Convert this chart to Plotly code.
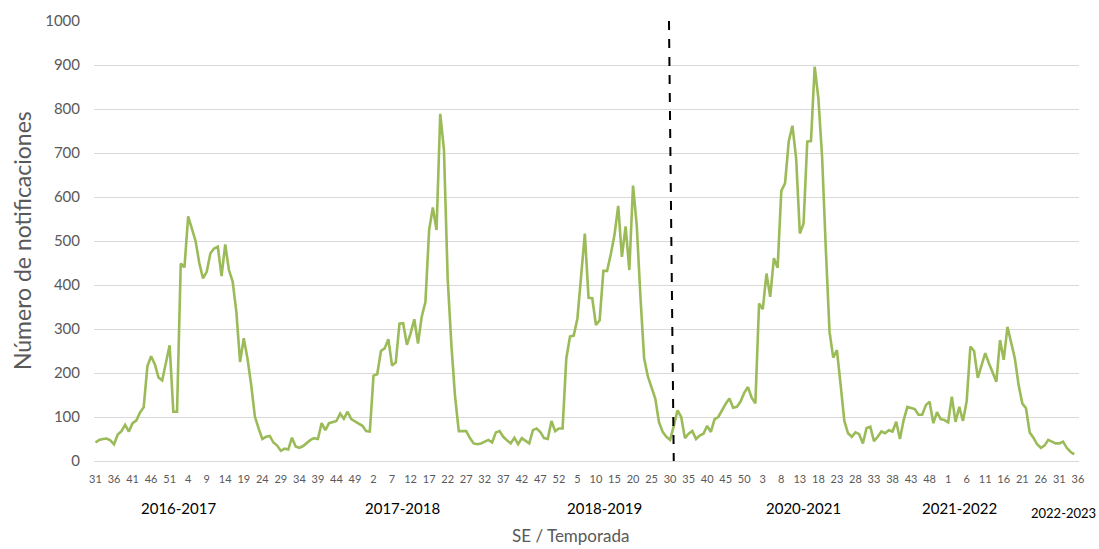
"""Notificaciones semanales por temporada (SE 31/2016 - SE 36/2022)."""

import plotly.graph_objects as go

# ---------------------------------------------------------------------------
# Data (one value per epidemiological week)
# ---------------------------------------------------------------------------

temporada_2016_2017 = [
    42, 48, 50, 51, 47, 38, 60, 68, 82, 67, 86, 92, 110, 122, 215, 238, 220,
    190, 183, 220, 263, 112, 112, 449, 440, 556, 530, 500, 450, 415, 430, 472,
    483, 487, 420, 492, 434, 408, 339, 225, 279, 233, 173, 101, 74, 50, 55, 57,
    42, 35, 23, 28,
]
temporada_2017_2018 = [
    26, 53, 33, 30, 34, 42, 48, 52, 50, 86, 70, 86, 89, 91, 108, 96, 112, 95,
    90, 85, 80, 68, 67, 194, 197, 250, 256, 277, 217, 224, 312, 313, 264, 290,
    322, 267, 328, 361, 525, 576, 525, 789, 707, 415, 264, 146, 68, 68, 68, 52,
    40, 38,
]
temporada_2018_2019 = [
    40, 44, 48, 42, 65, 68, 55, 47, 40, 53, 38, 52, 45, 40, 70, 74, 66, 52, 50,
    91, 68, 74, 74, 233, 283, 285, 324, 423, 517, 371, 370, 309, 320, 432, 432,
    470, 514, 580, 464, 533, 434, 626, 536, 373, 233, 192, 165, 142, 88, 66, 55,
    48,
]
temporada_2020_2021 = [
    80, 115, 100, 52, 62, 68, 50, 58, 62, 80, 66, 95, 100, 116, 130, 142, 121,
    123, 135, 155, 168, 144, 131, 358, 345, 426, 373, 461, 439, 614, 631, 726,
    762, 688, 517, 540, 726, 727, 896, 824, 692, 483, 294, 235, 252, 173, 91,
    63, 55, 65, 61, 40,
]
temporada_2021_2022 = [
    75, 78, 45, 55, 67, 63, 70, 67, 89, 50, 93, 123, 120, 118, 105, 105, 127,
    135, 86, 111, 95, 93, 88, 146, 89, 123, 91, 136, 260, 250, 189, 215, 245,
    222, 199, 180, 275, 230, 305, 267, 233, 173, 131, 120, 65, 53, 38, 30, 35,
    48, 44, 40,
]
temporada_2022_2023 = [40, 44, 30, 21, 15]

# Week labels shown every 5 weeks on the x axis
semanas_eje = [
    31, 36, 41, 46, 51, 4, 9, 14, 19, 24, 29, 34, 39, 44, 49, 2, 7, 12, 17, 22,
    27, 32, 37, 42, 47, 52, 5, 10, 15, 20, 25, 30, 35, 40, 45, 50, 3, 8, 13, 18,
    23, 28, 33, 38, 43, 48, 1, 6, 11, 16, 21, 26, 31, 36,
]

temporadas = ["2016-2017", "2017-2018", "2018-2019", "2020-2021", "2021-2022", "2022-2023"]
temporada_pos = [0.0853, 0.3127, 0.5178, 0.7208, 0.879, 0.9838]

notificaciones = (
    temporada_2016_2017 + temporada_2017_2018 + temporada_2018_2019
    + temporada_2020_2021 + temporada_2021_2022 + temporada_2022_2023
)

GREEN = "#9BBB59"
GRAY = "#595959"
GRID = "#D9D9D9"
FONT = "Lato, 'Open Sans', sans-serif"

fig = go.Figure()
fig.add_trace(go.Scatter(
    x=list(range(len(notificaciones))),
    y=notificaciones,
    mode="lines",
    line=dict(color=GREEN, width=2.6),
    hoverinfo="y",
))

# vertical dashed separator (slightly tilted as in the original)
fig.add_shape(
    type="line", xref="x", yref="y",
    x0=154.7, y0=1000, x1=156.0, y1=-10,
    line=dict(color="black", width=2, dash="dash"),
)

annotations = [
    dict(text=t, x=p, y=-0.106 if t != "2022-2023" else -0.118,
         xref="paper", yref="paper", xanchor="center", yanchor="middle",
         showarrow=False,
         font=dict(family=FONT, size=15 if t != "2022-2023" else 13, color="black"))
    for t, p in zip(temporadas, temporada_pos)
]
annotations.append(dict(
    text="SE / Temporada", x=0.484, y=-0.17, xref="paper", yref="paper",
    xanchor="center", yanchor="middle",
    showarrow=False, font=dict(family=FONT, size=17, color=GRAY),
))
annotations.append(dict(
    text="Número de notificaciones", x=-0.073, y=0.5, xref="paper", yref="paper",
    xanchor="center", yanchor="middle",
    textangle=-90, showarrow=False, font=dict(family=FONT, size=23, color=GRAY),
))

fig.update_layout(
    width=1099, height=549,
    margin=dict(l=94, r=20, t=21, b=88),
    paper_bgcolor="white", plot_bgcolor="white",
    showlegend=False,
    font=dict(family=FONT, color=GRAY),
    annotations=annotations,
)
fig.update_xaxes(
    range=[-0.4, 265.3],
    tickmode="array",
    tickvals=list(range(0, 5 * len(semanas_eje), 5)),
    ticktext=[str(s) for s in semanas_eje],
    tickangle=0,
    tickfont=dict(family=FONT, size=11, color=GRAY),
    ticks="outside", ticklen=8, tickcolor="rgba(0,0,0,0)",
    showgrid=False, zeroline=False, showline=False,
    automargin=False,
)
fig.update_yaxes(
    range=[0, 1000],
    dtick=100,
    tickfont=dict(family=FONT, size=15, color=GRAY),
    ticks="outside", ticklen=10, tickcolor="rgba(0,0,0,0)",
    showgrid=True, gridcolor=GRID, gridwidth=1.3,
    zeroline=True, zerolinecolor=GRID, zerolinewidth=1.3,
    showline=False,
    automargin=False,
)

# drop the default 8px body margin so the figure fills the window exactly
fig.write_html(
    "out.html",
    config={"displayModeBar": False},
    post_script="document.body.style.margin='0';document.body.style.overflow='hidden';",
)
